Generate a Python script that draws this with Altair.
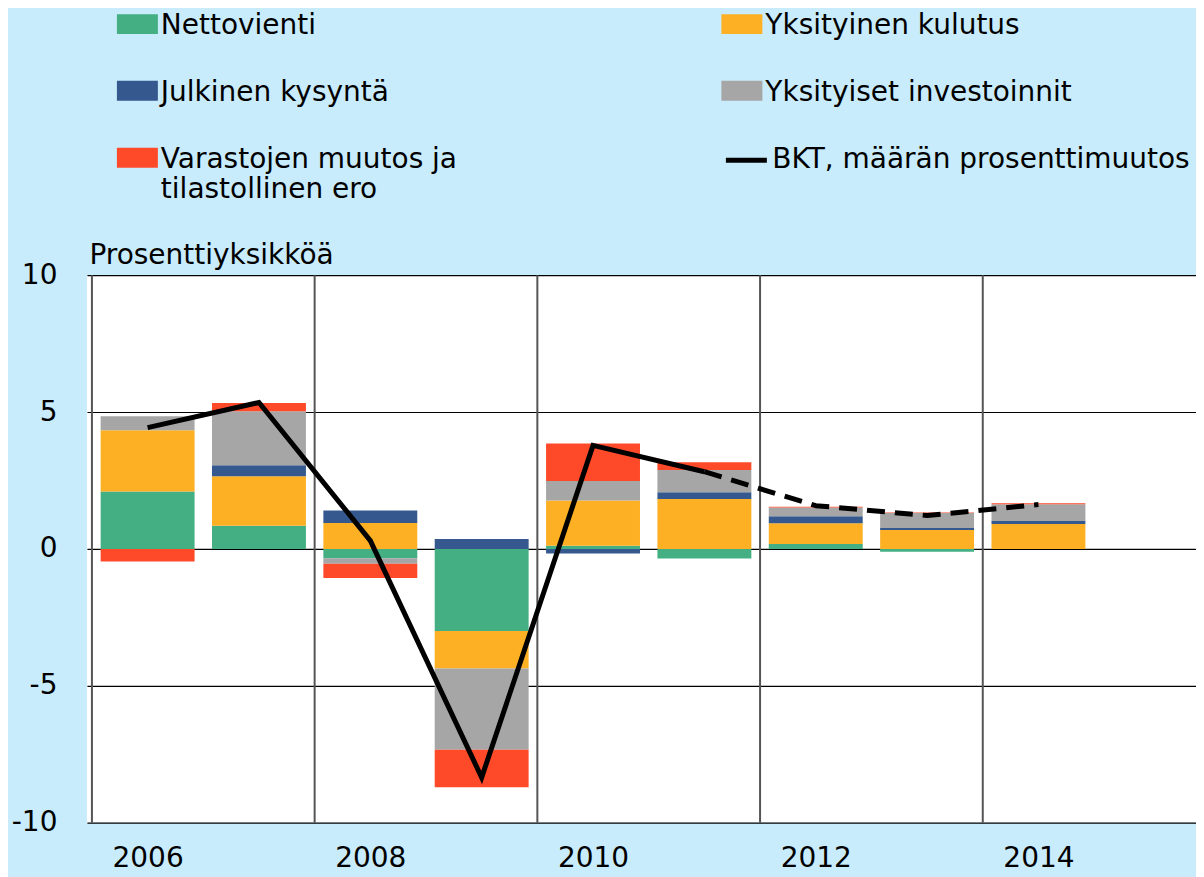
import altair as alt
import pandas as pd

years = [2006, 2007, 2008, 2009, 2010, 2011, 2012, 2013, 2014]
nettovienti = [2.10, 0.85, -0.34, -3.00, 0.12, -0.35, 0.18, -0.10, 0.00]
yksityinen_kulutus = [2.23, 1.80, 0.95, -1.37, 1.65, 1.82, 0.76, 0.69, 0.91]
julkinen_kysynta = [0.00, 0.41, 0.45, 0.36, -0.17, 0.25, 0.25, 0.07, 0.11]
yksityiset_investoinnit = [0.52, 1.97, -0.20, -2.97, 0.71, 0.81, 0.32, 0.55, 0.61]
varastot = [-0.46, 0.30, -0.52, -1.37, 1.37, 0.29, 0.03, 0.02, 0.04]
bkt = [4.43, 5.35, 0.30, -8.35, 3.78, 2.82, 1.58, 1.22, 1.62]

components = ["Nettovienti", "Yksityinen kulutus", "Julkinen kysyntä",
              "Yksityiset investoinnit", "Varastojen muutos ja tilastollinen ero"]
colors = ["#43AF82", "#FDB024", "#35598F", "#A6A6A6", "#FF4A2A"]
series_values = [nettovienti, yksityinen_kulutus, julkinen_kysynta,
                 yksityiset_investoinnit, varastot]
line_name = "BKT, määrän prosenttimuutos"
x_tick_labels = [2006, 2008, 2010, 2012, 2014]
y_tick_labels = [-10, -5, 0, 5, 10]
grid_x = [2005.5, 2007.5, 2009.5, 2011.5, 2013.5]

rows = []
for k, (name, vals) in enumerate(zip(components, series_values)):
    for yr, v in zip(years, vals):
        rows.append({"year": yr, "component": name, "value": v, "order": k})
df_bars = pd.DataFrame(rows)
df_line = pd.DataFrame({"year": years, "bkt": bkt, "series": line_name})
df_grid = pd.DataFrame({"gx": grid_x})

FONT = "DejaVu Sans"
xscale = alt.Scale(domain=[2005.5, 2015.37], nice=False, zero=False)
yscale = alt.Scale(domain=[-10, 10], nice=False)

x_axis = alt.Axis(values=x_tick_labels, labelExpr="'' + datum.value", title=None,
                  grid=False, ticks=False, domain=False, labelFont=FONT,
                  labelFontSize=28, labelColor="black", labelPadding=22)
y_axis = alt.Axis(values=y_tick_labels, labelExpr="'' + datum.value",
                  title="Prosenttiyksikköä", grid=True,
                  gridColor="black", gridWidth=1.2, gridOpacity=1,
                  ticks=False, domain=False, labelFont=FONT, labelFontSize=28,
                  labelColor="black", labelPadding=30,
                  titleFont=FONT, titleFontSize=28, titleFontWeight="normal",
                  titleColor="black", titleAngle=0, titleAlign="left",
                  titleBaseline="alphabetic", titleX=2, titleY=-12)

grid = alt.Chart(df_grid).mark_rule(color="#555555", strokeWidth=2).encode(
    x=alt.X("gx:Q", scale=xscale, axis=x_axis)
)

bars = alt.Chart(df_bars).mark_bar(size=94).encode(
    x=alt.X("year:Q", scale=xscale, axis=x_axis),
    y=alt.Y("sum(value):Q", scale=yscale, stack="zero", axis=y_axis),
    color=alt.Color("component:N",
                    scale=alt.Scale(domain=components, range=colors),
                    legend=alt.Legend(
                        orient="none", legendX=30, legendY=-284, columns=2,
                        direction="horizontal",
                        title=None, padding=0,
                        labelFont=FONT, labelFontSize=28, labelColor="black",
                        labelLimit=600, labelOffset=3, labelBaseline="top",
                        labelExpr="datum.label == 'Varastojen muutos ja tilastollinen ero' ? ['Varastojen muutos ja', 'tilastollinen ero'] : datum.label",
                        symbolType="M-1,0.1H1V1.07H-1Z", symbolSize=1681,
                        symbolStrokeWidth=0, symbolOpacity=1,
                        columnPadding=264, rowPadding=18)),
    order=alt.Order("order:Q", sort="ascending"),
)

stroke_enc = alt.Stroke("series:N", scale=alt.Scale(domain=[line_name], range=["black"]),
                        legend=alt.Legend(orient="none", legendX=637, legendY=-138,
                                          title=None, padding=0, labelFont=FONT,
                                          labelFontSize=28, labelColor="black",
                                          labelLimit=600, labelOffset=3,
                                          symbolType="stroke", symbolSize=1681,
                                          symbolStrokeWidth=5, symbolDash=[1, 0]))

line_solid = alt.Chart(df_line).transform_filter("datum.year <= 2011").mark_line(
    strokeWidth=5, strokeJoin="miter").encode(
    x=alt.X("year:Q", scale=xscale, axis=x_axis), y=alt.Y("bkt:Q", scale=yscale, axis=y_axis),
    stroke=stroke_enc)

line_dash = alt.Chart(df_line).transform_filter("datum.year >= 2011").mark_line(
    strokeWidth=5, strokeDash=[18, 10], strokeJoin="round").encode(
    x=alt.X("year:Q", scale=xscale, axis=x_axis), y=alt.Y("bkt:Q", scale=yscale, axis=y_axis),
    stroke=stroke_enc)

chart = alt.layer(grid, bars, line_solid, line_dash).properties(
    width=1110, height=548,
    autosize=alt.AutoSizeParams(type="none"),
    padding={"left": 79, "top": 267, "right": 0, "bottom": 54},
).configure(background="#C8ECFB").configure_view(fill="white", stroke=None)

chart.save("out.html", embed_options={"renderer": "svg", "actions": False})
